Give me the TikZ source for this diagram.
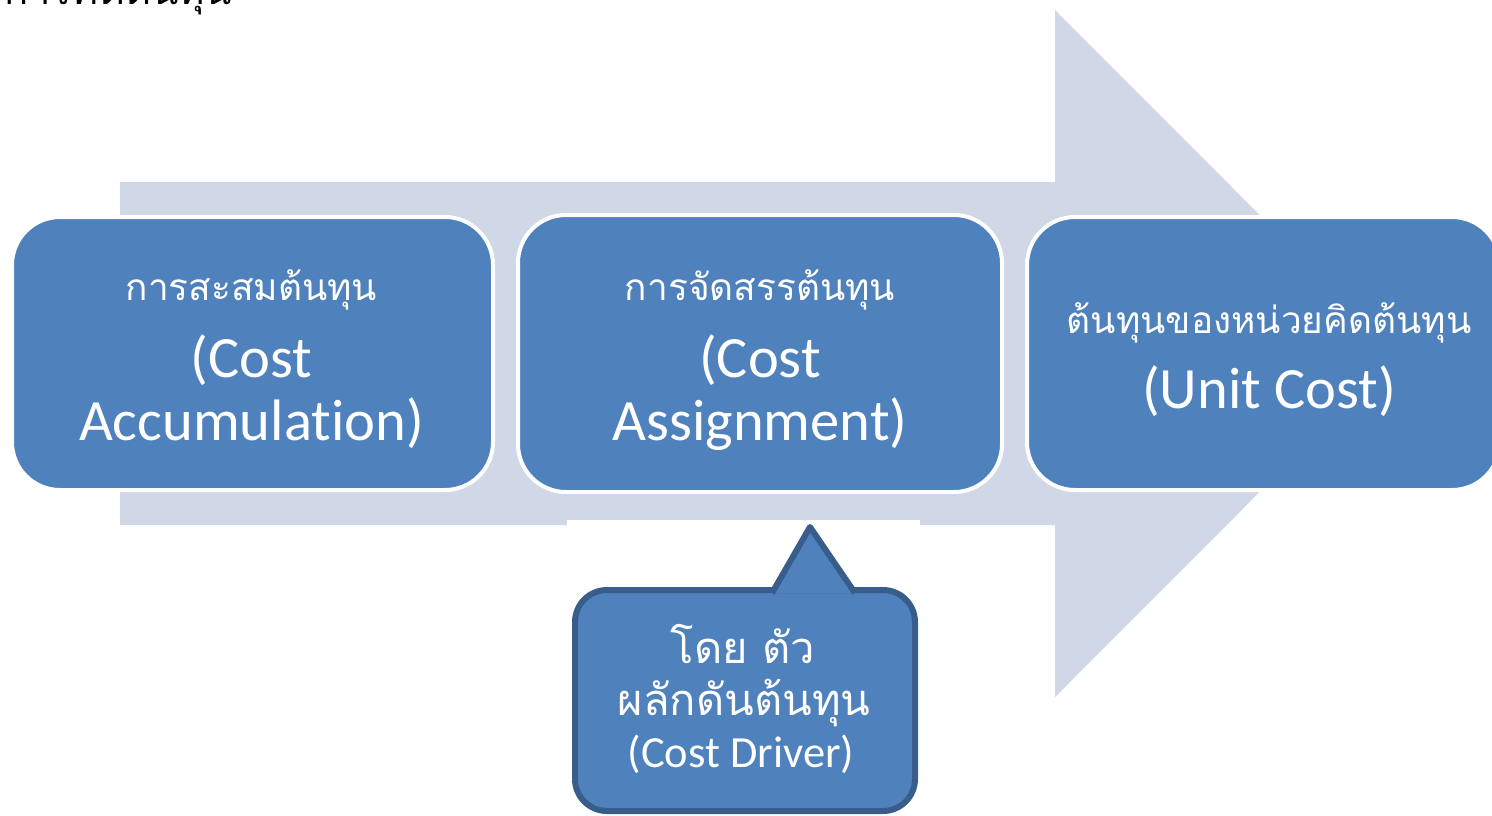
\documentclass[tikz,border=0pt]{standalone}
\usepackage{fontspec}
\setmainfont{Carlito}[Ligatures={NoCommon}]
\newfontfamily\thai[Script=Thai]{Loma}
\definecolor{arrowc}{HTML}{D0D8E8}
\definecolor{boxc}{HTML}{4F81BD}
\definecolor{edgec}{HTML}{385D8A}
\tikzset{
  stagebox/.style={draw=white, line width=4pt, fill=boxc, rounded corners=48pt, inner sep=0pt},
  thaitxt/.style={anchor=base, text=white, inner sep=0pt, font=\thai\fontsize{37}{44}\selectfont},
  engtxt/.style={anchor=base, text=white, inner sep=0pt, font=\fontsize{58.5}{64}\selectfont},
  drvbox/.style={draw=edgec, line width=6pt, fill=boxc, rounded corners=32pt, inner sep=0pt},
  drvthai/.style={anchor=base, text=white, inner sep=0pt, font=\thai\fontsize{43.5}{50}\selectfont},
  drveng/.style={anchor=base, text=white, inner sep=0pt, font=\fontsize{44.5}{50}\selectfont},
}
\begin{document}
\begin{tikzpicture}[x=1pt,y=-1pt]
\useasboundingbox (0,0) rectangle (1492,815);
% title (cut off at the top)
\node[anchor=base west, inner sep=0pt, font=\thai\fontsize{40}{48}\selectfont] (title) at (4,4) {การคิดต้นทุน};
% big arrow
\fill[arrowc] (120,182) -- (1055,182) -- (1055,10) -- (1398,353.5) -- (1055,697) -- (1055,525) -- (120,525) -- cycle;
\fill[white] (567,520) rectangle (920,527);
% stage boxes
\node[stagebox, minimum width=481pt, minimum height=273pt] (acc) at (252.5,353.5) {};
\node[stagebox, minimum width=484pt, minimum height=277pt] (ass) at (760,353.5) {};
\node[stagebox, minimum width=473pt, minimum height=273pt] (unit) at (1263.5,353.5) {};
% texts
\node[thaitxt] (acc1) at (251.5,300) {การสะสมต้นทุน};
\node[engtxt] (acc2) at (251.5,377) {(Cost};
\node[engtxt] (acc3) at (251.5,440) {Accumulation)};
\node[thaitxt] (ass1) at (760,300) {การจัดสรรต้นทุน};
\node[engtxt] (ass2) at (760,377) {(Cost};
\node[engtxt] (ass3) at (760,440) {Assignment)};
\node[thaitxt] (unit1) at (1269,333) {ต้นทุนของหน่วยคิดต้นทุน};
\node[engtxt] (unit2) at (1269,408) {(Unit Cost)};
% callout
\node[drvbox, minimum width=340pt, minimum height=221pt] (drv) at (745,700.5) {};
\coordinate (tip) at (810,527);
\filldraw[fill=boxc, draw=edgec, line width=6pt, line join=round] (772,593) -- (tip) -- (855,593);
\node[drvthai] (drv1) at (743,663) {โดย ตัว};
\node[drvthai] (drv2) at (744,715) {ผลักดันต้นทุน};
\node[drveng] (drv3) at (741,767) {(Cost Driver)};
\end{tikzpicture}
\end{document}
